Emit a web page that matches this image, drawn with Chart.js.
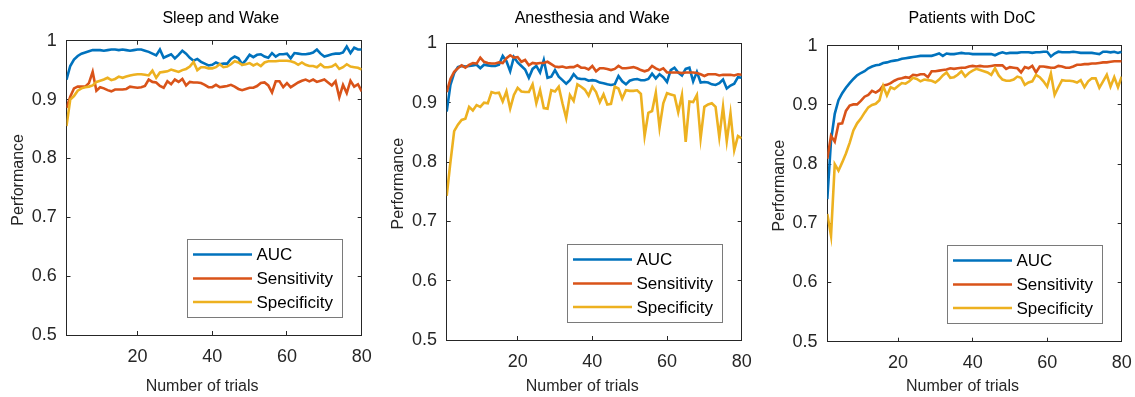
<!DOCTYPE html>
<html><head><meta charset="utf-8">
<script src="https://cdn.jsdelivr.net/npm/chart.js@4.4.1/dist/chart.umd.min.js"></script>
<style>
html,body{margin:0;padding:0;background:#fff;width:1135px;height:397px;overflow:hidden;}
canvas{position:absolute;top:0;}
</style></head><body>
<canvas id="c1" width="380" height="397" style="left:0px"></canvas>
<canvas id="c2" width="380" height="397" style="left:380px"></canvas>
<canvas id="c3" width="375" height="397" style="left:760px"></canvas>
<script>
// ---------- data ----------
const trials = [1,2,3,4,5,6,7,8,9,10,11,12,13,14,15,16,17,18,19,20,21,22,23,24,25,26,27,28,29,30,31,32,33,34,35,36,37,38,39,40,41,42,43,44,45,46,47,48,49,50,51,52,53,54,55,56,57,58,59,60,61,62,63,64,65,66,67,68,69,70,71,72,73,74,75,76,77,78,79,80];
const xTicks = [20,40,60,80];
const xTickLabels = ['20','40','60','80'];
const yTicks = [0.5,0.6,0.7,0.8,0.9,1];
const yTickLabels = ['0.5','0.6','0.7','0.8','0.9','1'];
const seriesNames = ['AUC','Sensitivity','Specificity'];
const seriesColors = ['#0072BD','#D95319','#EDB120'];
const panelTitles = ['Sleep and Wake','Anesthesia and Wake','Patients with DoC'];
const xTitle = 'Number of trials';
const yTitle = 'Performance';

const sleepAuc = [0.934,0.957,0.968,0.974,0.978,0.980,0.982,0.984,0.984,0.984,
 0.983,0.984,0.985,0.985,0.984,0.985,0.984,0.983,0.984,0.985,
 0.985,0.983,0.981,0.978,0.975,0.985,0.971,0.974,0.977,0.970,
 0.976,0.983,0.978,0.971,0.966,0.969,0.964,0.961,0.958,0.959,
 0.963,0.960,0.961,0.961,0.969,0.973,0.970,0.960,0.967,0.976,
 0.972,0.976,0.977,0.973,0.971,0.979,0.973,0.977,0.977,0.978,
 0.970,0.979,0.978,0.977,0.977,0.978,0.980,0.985,0.978,0.973,
 0.975,0.977,0.978,0.978,0.980,0.990,0.979,0.988,0.985,0.985];
const sleepSens = [0.886,0.905,0.919,0.922,0.922,0.922,0.928,0.947,0.915,0.921,
 0.919,0.916,0.914,0.917,0.917,0.917,0.918,0.922,0.921,0.920,
 0.921,0.923,0.934,0.930,0.929,0.923,0.920,0.931,0.926,0.934,
 0.930,0.935,0.924,0.930,0.929,0.929,0.928,0.925,0.921,0.921,
 0.925,0.921,0.922,0.923,0.925,0.922,0.918,0.916,0.918,0.920,
 0.920,0.923,0.928,0.929,0.924,0.912,0.931,0.931,0.921,0.928,
 0.921,0.925,0.929,0.932,0.934,0.931,0.934,0.930,0.932,0.934,
 0.929,0.924,0.931,0.904,0.925,0.911,0.932,0.922,0.926,0.914];
const sleepSpec = [0.855,0.900,0.906,0.915,0.919,0.921,0.922,0.924,0.930,0.932,
 0.934,0.937,0.933,0.935,0.939,0.937,0.939,0.941,0.942,0.943,
 0.943,0.942,0.941,0.949,0.937,0.946,0.947,0.948,0.951,0.949,
 0.947,0.950,0.952,0.956,0.964,0.950,0.955,0.955,0.953,0.953,
 0.955,0.960,0.955,0.956,0.960,0.965,0.963,0.959,0.960,0.962,
 0.958,0.961,0.957,0.963,0.965,0.965,0.965,0.966,0.966,0.966,
 0.965,0.963,0.959,0.963,0.959,0.957,0.957,0.955,0.960,0.955,
 0.955,0.956,0.960,0.952,0.955,0.960,0.956,0.955,0.954,0.951];

const anesAuc = [0.885,0.930,0.950,0.960,0.962,0.961,0.962,0.963,0.964,0.958,
 0.964,0.963,0.962,0.962,0.964,0.979,0.970,0.953,0.977,0.968,
 0.962,0.956,0.942,0.957,0.962,0.951,0.972,0.942,0.944,0.955,
 0.944,0.938,0.932,0.938,0.948,0.941,0.940,0.940,0.937,0.938,
 0.937,0.934,0.933,0.931,0.930,0.931,0.945,0.936,0.931,0.937,
 0.939,0.940,0.938,0.938,0.940,0.949,0.941,0.948,0.943,0.935,
 0.955,0.959,0.951,0.946,0.957,0.959,0.936,0.952,0.934,0.935,
 0.934,0.931,0.930,0.933,0.939,0.924,0.929,0.932,0.943,0.942];
const anesSens = [0.918,0.940,0.952,0.958,0.963,0.959,0.964,0.967,0.966,0.976,
 0.969,0.967,0.966,0.966,0.968,0.967,0.975,0.980,0.976,0.977,
 0.969,0.972,0.963,0.967,0.966,0.967,0.967,0.969,0.965,0.961,
 0.960,0.961,0.959,0.960,0.960,0.963,0.959,0.959,0.956,0.962,
 0.953,0.958,0.958,0.957,0.955,0.957,0.962,0.958,0.958,0.959,
 0.960,0.958,0.955,0.953,0.955,0.962,0.958,0.955,0.958,0.951,
 0.951,0.951,0.951,0.950,0.951,0.951,0.951,0.950,0.948,0.945,
 0.948,0.948,0.948,0.946,0.947,0.947,0.947,0.946,0.948,0.947];
const anesSpec = [0.743,0.800,0.852,0.863,0.871,0.873,0.893,0.887,0.896,0.893,
 0.900,0.899,0.918,0.916,0.917,0.902,0.919,0.890,0.913,0.925,
 0.919,0.918,0.918,0.931,0.899,0.921,0.891,0.890,0.921,0.919,
 0.927,0.899,0.874,0.913,0.903,0.931,0.927,0.922,0.912,0.927,
 0.918,0.901,0.914,0.897,0.898,0.927,0.924,0.907,0.921,0.920,
 0.920,0.921,0.915,0.844,0.883,0.886,0.917,0.858,0.899,0.916,
 0.914,0.912,0.884,0.913,0.834,0.902,0.901,0.913,0.840,0.893,
 0.897,0.899,0.893,0.842,0.893,0.835,0.882,0.820,0.844,0.840];

const docAuc = [0.741,0.840,0.885,0.908,0.920,0.929,0.937,0.944,0.950,0.954,
 0.957,0.962,0.965,0.967,0.968,0.971,0.972,0.974,0.975,0.976,
 0.978,0.979,0.980,0.981,0.982,0.983,0.983,0.983,0.983,0.985,
 0.987,0.983,0.987,0.986,0.986,0.987,0.988,0.987,0.987,0.986,
 0.986,0.986,0.986,0.986,0.986,0.984,0.987,0.989,0.987,0.988,
 0.988,0.988,0.989,0.989,0.989,0.988,0.989,0.989,0.990,0.990,
 0.982,0.987,0.990,0.989,0.989,0.989,0.990,0.989,0.988,0.988,
 0.988,0.988,0.987,0.986,0.990,0.990,0.989,0.990,0.988,0.990];
const docSens = [0.809,0.848,0.838,0.868,0.869,0.890,0.899,0.901,0.901,0.907,
 0.914,0.917,0.924,0.921,0.925,0.933,0.934,0.937,0.941,0.944,
 0.945,0.947,0.946,0.951,0.950,0.952,0.952,0.947,0.957,0.957,
 0.958,0.959,0.960,0.962,0.961,0.962,0.963,0.963,0.965,0.966,
 0.965,0.966,0.965,0.965,0.966,0.967,0.967,0.967,0.961,0.964,
 0.963,0.962,0.955,0.964,0.962,0.966,0.955,0.965,0.965,0.964,
 0.963,0.963,0.966,0.965,0.963,0.963,0.965,0.968,0.968,0.969,
 0.969,0.970,0.970,0.971,0.972,0.972,0.973,0.974,0.974,0.974];
const docSpec = [0.716,0.679,0.800,0.789,0.803,0.818,0.836,0.857,0.869,0.877,
 0.887,0.896,0.900,0.902,0.908,0.932,0.916,0.930,0.927,0.932,
 0.937,0.936,0.940,0.946,0.944,0.940,0.943,0.942,0.941,0.938,
 0.943,0.950,0.955,0.946,0.947,0.951,0.957,0.948,0.954,0.958,
 0.961,0.959,0.957,0.955,0.951,0.962,0.950,0.943,0.941,0.941,
 0.943,0.948,0.946,0.934,0.938,0.940,0.951,0.947,0.940,0.931,
 0.953,0.917,0.930,0.942,0.941,0.941,0.940,0.938,0.942,0.930,
 0.940,0.945,0.945,0.929,0.940,0.951,0.931,0.947,0.930,0.948];

// ---------- layout / style ----------
const FONT = '"Liberation Sans", Arial, Helvetica, sans-serif';
const AX = '#262626';
const H = 397;
const TITLE_BASELINE = 22.7;
const XLABEL_BASELINE = 390.7;
const panels = [
  {id:'c1', left:0,   width:380, L:66.5,  R:361.7,  T:40.7, B:335.0, titleDx:6.7,  title:panelTitles[0], series:[sleepAuc, sleepSens, sleepSpec]},
  {id:'c2', left:380, width:380, L:446.7, R:741.7,  T:43.4, B:340.0, titleDx:-2.0, title:panelTitles[1], series:[anesAuc, anesSens, anesSpec]},
  {id:'c3', left:760, width:375, L:827.3, R:1121.7, T:45.8, B:341.7, titleDx:-2.5, title:panelTitles[2], series:[docAuc, docSens, docSpec]}
];

const decor = {
  id: 'decor',
  afterDraw(chart, args, o) {
    const ctx = chart.ctx, ca = chart.chartArea;
    const cx = (ca.left + ca.right) / 2, cy = (ca.top + ca.bottom) / 2;
    ctx.save();
    ctx.textAlign = 'center';
    ctx.textBaseline = 'alphabetic';
    ctx.font = '16px ' + FONT;
    ctx.fillStyle = '#000';
    ctx.fillText(o.title, cx + o.titleDx, TITLE_BASELINE);
    ctx.fillStyle = AX;
    ctx.fillText(xTitle, cx - 12, XLABEL_BASELINE);
    ctx.save();
    ctx.translate(ca.left - 43.5, cy - 8);
    ctx.rotate(-Math.PI / 2);
    ctx.fillText(yTitle, 0, 0);
    ctx.restore();
    // legend box (MATLAB style, lower right inside axes)
    const bw = 155, bh = 78;
    const bx = Math.round(ca.right - 19.5 - bw) + 0.5, by = Math.round(ca.bottom - 18.5 - bh) + 0.5;
    ctx.fillStyle = '#fff';
    ctx.fillRect(bx, by, bw, bh);
    ctx.strokeStyle = '#7a7a7a';
    ctx.lineWidth = 1;
    ctx.strokeRect(bx, by, bw, bh);
    ctx.font = '17px ' + FONT;
    ctx.textAlign = 'left';
    ctx.textBaseline = 'middle';
    const rows = [15, 39, 62.5];
    chart.data.datasets.forEach((ds, k) => {
      const yy = by + rows[k];
      ctx.strokeStyle = ds.borderColor;
      ctx.lineWidth = 2.6;
      ctx.beginPath();
      ctx.moveTo(bx + 5.5, yy);
      ctx.lineTo(bx + 64.5, yy);
      ctx.stroke();
      ctx.fillStyle = '#000';
      ctx.fillText(ds.label, bx + 69, yy + 1);
    });
    ctx.restore();
  }
};

function axisBase() {
  return {
    grid: {display: true, drawOnChartArea: false, drawTicks: true, tickLength: -4, color: AX, lineWidth: 1},
    border: {display: true, color: AX, width: 1}
  };
}

function makeChart(p) {
  const datasets = p.series.map((vals, k) => ({
    label: seriesNames[k],
    data: vals.map((v, i) => ({x: trials[i], y: v})),
    borderColor: seriesColors[k],
    backgroundColor: seriesColors[k],
    borderWidth: 2.6,
    pointRadius: 0,
    pointHoverRadius: 0,
    tension: 0,
    fill: false,
    order: 3 - k
  }));
  const setX = s => { s.ticks = xTicks.map(v => ({value: v})); };
  const setY = s => { s.ticks = yTicks.map(v => ({value: v})); };
  new Chart(document.getElementById(p.id), {
    type: 'line',
    data: {datasets},
    plugins: [decor],
    options: {
      responsive: false,
      animation: false,
      devicePixelRatio: 1,
      layout: {padding: {left: 0, right: p.left + p.width - p.R, top: p.T, bottom: 0}},
      plugins: {
        legend: {display: false},
        title: {display: false},
        tooltip: {enabled: false},
        decor: {title: p.title, titleDx: p.titleDx}
      },
      scales: {
        x: Object.assign(axisBase(), {
          type: 'linear', position: 'bottom', min: 1, max: 80,
          afterBuildTicks: setX,
          ticks: {font: {family: FONT, size: 18}, color: AX, padding: 14.9, maxRotation: 0, autoSkip: false,
                  callback: (v, i) => xTickLabels[i]},
          afterFit: s => { s.height = H - p.B; s.paddingLeft = 0; s.paddingRight = 0; }
        }),
        x2: Object.assign(axisBase(), {
          type: 'linear', position: 'top', min: 1, max: 80,
          afterBuildTicks: setX,
          ticks: {display: false},
          afterFit: s => { s.height = 0; s.paddingLeft = 0; s.paddingRight = 0; }
        }),
        y: Object.assign(axisBase(), {
          type: 'linear', position: 'left', min: 0.5, max: 1,
          afterBuildTicks: setY,
          ticks: {font: {family: FONT, size: 18}, color: AX, padding: 13.8,
                  callback: (v, i) => yTickLabels[i]},
          afterFit: s => { s.width = p.L - p.left; s.paddingTop = 0; s.paddingBottom = 0; }
        }),
        y2: Object.assign(axisBase(), {
          type: 'linear', position: 'right', min: 0.5, max: 1,
          afterBuildTicks: setY,
          ticks: {display: false},
          afterFit: s => { s.width = 0; s.paddingTop = 0; s.paddingBottom = 0; }
        })
      }
    }
  });
}
panels.forEach(makeChart);
</script>
</body></html>
